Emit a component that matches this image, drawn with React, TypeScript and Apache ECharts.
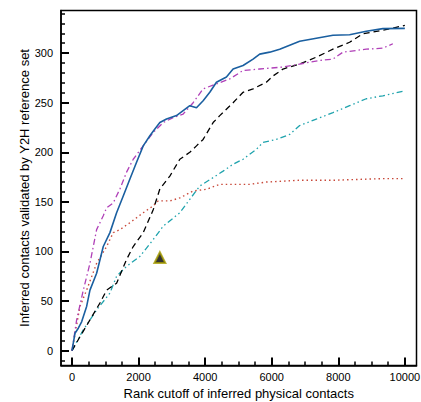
import React, { useEffect, useRef } from "react";
import * as echarts from "echarts";

const xTickLabels = [0, 2000, 4000, 6000, 8000, 10000];
const xMinorTicks = [500, 1000, 1500, 2500, 3000, 3500, 4500, 5000, 5500, 6500, 7000, 7500, 8500, 9000, 9500];
const yTickLabels = [0, 50, 100, 150, 200, 250, 300];
const yMinorTicks = [-10, 10, 20, 30, 40, 60, 70, 80, 90, 110, 120, 130, 140, 160, 170, 180, 190, 210, 220, 230, 240, 260, 270, 280, 290, 310, 320, 330, 340];

const blueX = [0, 90, 190, 290, 440, 540, 740, 940, 1140, 1340, 1540, 1740, 1940, 2140, 2340, 2490, 2640, 2840, 3140, 3340, 3540, 3740, 3940, 4140, 4340, 4640, 4840, 5140, 5440, 5640, 5940, 6240, 6540, 6840, 7340, 7840, 8340, 8840, 9340, 10000];
const blueY = [0, 17.5, 22.6, 29, 44.6, 61, 78, 105, 119, 139, 156, 173, 190, 206.5, 216.7, 223.4, 230, 233.5, 237, 242, 247, 245, 252, 260.5, 270.7, 276, 284, 287.5, 294, 299, 301, 304, 308, 312, 315, 318, 318.6, 322, 324.7, 325];

const magentaX = [0, 140, 340, 540, 740, 940, 1040, 1240, 1440, 1640, 1840, 2140, 2440, 2740, 3040, 3340, 3640, 3940, 4340, 4740, 5140, 5640, 6340, 6840, 7440, 7840, 8140, 8840, 9340, 9640];
const magentaY = [0, 31, 61, 88, 122, 136, 144, 149, 163, 180, 193, 206.5, 220, 230, 235, 238.6, 250, 264, 269, 274, 282.5, 284, 286, 289, 292.6, 294, 301, 304, 305, 309.5];

const blackX = [0, 240, 540, 840, 1040, 1340, 1640, 1840, 2140, 2440, 2640, 2940, 3240, 3540, 3740, 3940, 4240, 4440, 4840, 5140, 5440, 5840, 6040, 6340, 6840, 7340, 7840, 8340, 8740, 9340, 10000];
const blackY = [0, 14, 31, 48, 61, 68, 92, 105, 119, 142, 163, 176, 193, 200, 206.5, 213, 230, 237, 250, 260.5, 264, 270.7, 277, 284, 289, 296, 304, 311, 319.6, 323, 328];

const cyanX = [0, 340, 740, 1140, 1340, 1640, 2040, 2440, 2740, 3240, 3540, 3840, 4240, 4540, 4840, 5140, 5540, 5740, 6140, 6540, 6840, 7340, 7840, 8340, 8840, 9340, 10000];
const cyanY = [0, 21, 41, 58, 75, 85, 95, 112, 125.5, 139, 152.6, 166, 174.5, 181, 188, 193, 203, 210, 213, 218, 227, 233.5, 240, 247, 254, 257, 262];

const redX = [0, 240, 440, 740, 1040, 1240, 1440, 1740, 2140, 2440, 2590, 2940, 3240, 3640, 4040, 4440, 5340, 5840, 6840, 7840, 9340, 10000];
const redY = [0, 44.6, 61, 88, 105, 119, 122, 129, 139, 146, 151, 151, 154, 161, 162.7, 167.7, 167.7, 170, 171.8, 171.8, 173.5, 173.5];

const markerX = [2640];
const markerY = [93.8];

const zip = (xs: number[], ys: number[]) => xs.map((x, i) => [x, ys[i]]);

const FONT = "Liberation Sans";
const X_MIN = -330, X_MAX = 10350, Y_MIN = -15, Y_MAX = 343;

export default function App() {
  const ref = useRef<HTMLDivElement>(null);
  useEffect(() => {
    if (!ref.current) return;
    const chart = echarts.init(ref.current, undefined, { renderer: "svg" });
    chart.setOption({
      animation: false,
      grid: { left: 61, right: 4.5, top: 10.5, bottom: 36.5, show: true, borderColor: "#000", borderWidth: 1.5, outerBoundsMode: "none" },
      xAxis: [
        {
          type: "value", min: X_MIN, max: X_MAX, position: "bottom",
          splitLine: { show: false },
          name: "Rank cutoff of inferred physical contacts",
          nameLocation: "middle",
          nameGap: 21,
          nameMoveOverlap: false,
          nameTextStyle: { fontSize: 13, color: "#000", fontFamily: FONT },
          axisLine: { show: true, onZero: false, lineStyle: { color: "#000", width: 1.5 } },
          axisTick: { show: true, inside: true, length: 8, customValues: xTickLabels, lineStyle: { color: "#000", width: 2 } },
          axisLabel: { show: true, customValues: xTickLabels, formatter: (v: number) => String(v), margin: 6, fontSize: 11, color: "#000", fontFamily: FONT },
        },
        {
          type: "value", min: X_MIN, max: X_MAX, position: "bottom",
          splitLine: { show: false },
          axisLine: { show: false, onZero: false },
          axisTick: { show: true, inside: true, length: 4, customValues: xMinorTicks, lineStyle: { color: "#000", width: 1.5 } },
          axisLabel: { show: false },
        },
      ],
      yAxis: [
        {
          type: "value", min: Y_MIN, max: Y_MAX, position: "left",
          splitLine: { show: false },
          name: "Inferred contacts validated by Y2H reference set",
          nameLocation: "middle",
          nameGap: 30,
          nameMoveOverlap: false,
          nameTextStyle: { fontSize: 13, color: "#000", fontFamily: FONT },
          axisLine: { show: true, onZero: false, lineStyle: { color: "#000", width: 1.5 } },
          axisTick: { show: true, inside: true, length: 8, customValues: yTickLabels, lineStyle: { color: "#000", width: 2 } },
          axisLabel: { show: true, customValues: yTickLabels, formatter: (v: number) => String(v), margin: 8, fontSize: 11, color: "#000", fontFamily: FONT },
        },
        {
          type: "value", min: Y_MIN, max: Y_MAX, position: "left",
          splitLine: { show: false },
          axisLine: { show: false, onZero: false },
          axisTick: { show: true, inside: true, length: 4, customValues: yMinorTicks, lineStyle: { color: "#000", width: 1.5 } },
          axisLabel: { show: false },
        },
      ],
      series: [
        { type: "line", data: zip(redX, redY), showSymbol: false, symbol: "none", lineStyle: { color: "#c8493a", width: 1.4, type: [1.5, 3] } },
        { type: "line", data: zip(cyanX, cyanY), showSymbol: false, symbol: "none", lineStyle: { color: "#1fa3ad", width: 1.3, type: [6, 3, 1.5, 3, 1.5, 3] } },
        { type: "line", data: zip(blackX, blackY), showSymbol: false, symbol: "none", lineStyle: { color: "#000", width: 1.3, type: [6, 4] } },
        { type: "line", data: zip(magentaX, magentaY), showSymbol: false, symbol: "none", lineStyle: { color: "#b040b8", width: 1.3, type: [6, 3, 1.5, 3] } },
        { type: "line", data: zip(blueX, blueY), showSymbol: false, symbol: "none", lineStyle: { color: "#1a5fa0", width: 1.6 } },
        { type: "scatter", data: zip(markerX, markerY), symbol: "triangle", symbolSize: 11, itemStyle: { color: "#000", borderColor: "#a89e00", borderWidth: 2 } },
      ],
    });
    return () => chart.dispose();
  }, []);
  return <div ref={ref} style={{ width: 421, height: 402, position: "absolute", left: 0, top: 0 }} />;
}
